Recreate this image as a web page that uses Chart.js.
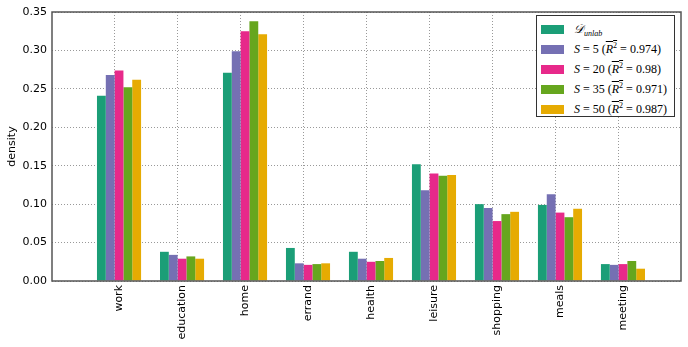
<!DOCTYPE html>
<html>
<head>
<meta charset="utf-8">
<script src="https://cdn.jsdelivr.net/npm/chart.js@4/dist/chart.umd.min.js"></script>
<style>
  html, body { margin: 0; padding: 0; background: #fff; }
  #wrap { position: relative; width: 688px; height: 347px; }
  #legend {
    position: absolute; left: 536px; top: 15px; width: 139px; height: 102px;
    border: 1px solid #333; background: #fff; box-sizing: border-box;
    font-family: 'Liberation Serif', serif; font-size: 12px; color: #000;
    padding-top: 3px;
  }
  #legend .row { height: 20px; display: flex; align-items: center; white-space: nowrap; }
  #legend .sw { width: 23px; height: 9px; margin-left: 4px; margin-right: 10px; }
  #legend sup { font-size: 8px; vertical-align: 5px; line-height: 0; }
  #legend sub { font-size: 8px; vertical-align: -3px; line-height: 0; font-style: italic; }
  #legend .ol { text-decoration: overline; }
</style>
</head>
<body>
<div id="wrap">
  <canvas id="c" width="688" height="347"></canvas>
  <div id="legend"></div>
</div>
<script>
// categories and series
var CATEGORIES = ['work', 'education', 'home', 'errand', 'health', 'leisure', 'shopping', 'meals', 'meeting'];
var UNLAB = [0.241, 0.038, 0.271, 0.043, 0.038, 0.152, 0.100, 0.099, 0.022];
var S5    = [0.268, 0.034, 0.299, 0.023, 0.029, 0.118, 0.095, 0.113, 0.021];
var S20   = [0.274, 0.029, 0.325, 0.021, 0.025, 0.140, 0.078, 0.089, 0.022];
var S35   = [0.252, 0.032, 0.338, 0.022, 0.026, 0.137, 0.087, 0.083, 0.026];
var S50   = [0.262, 0.029, 0.321, 0.023, 0.030, 0.138, 0.090, 0.094, 0.016];
var SERIES_LABELS = [
  '<i>𝒟</i><sub>unlab</sub>',
  '<i>S</i> = 5 (<span class="ol"><i>R</i><sup>2</sup></span> = 0.974)',
  '<i>S</i> = 20 (<span class="ol"><i>R</i><sup>2</sup></span> = 0.98)',
  '<i>S</i> = 35 (<span class="ol"><i>R</i><sup>2</sup></span> = 0.971)',
  '<i>S</i> = 50 (<span class="ol"><i>R</i><sup>2</sup></span> = 0.987)'
];
var COLORS = ['#1b9e77', '#7570b3', '#e7298a', '#66a61e', '#e6ab02'];
var Y_TICKS = [0, 0.05, 0.10, 0.15, 0.20, 0.25, 0.30, 0.35];

var FONT = "'DejaVu Sans', sans-serif";

function points(arr) {
  return arr.map(function (v, i) { return { x: i, y: v }; });
}

// dotted vertical grid, sitting a little left of each group centre (like the original)
var vGridPlugin = {
  id: 'vGrid',
  beforeDatasetsDraw: function (chart) {
    var ctx = chart.ctx, a = chart.chartArea, xs = chart.scales.x;
    ctx.save();
    ctx.strokeStyle = '#999';
    ctx.lineWidth = 1;
    ctx.setLineDash([1, 2]);
    CATEGORIES.forEach(function (c, i) {
      var x = Math.round(xs.getPixelForValue(i - 0.075)) + 0.5;
      ctx.beginPath();
      ctx.moveTo(x, a.top);
      ctx.lineTo(x, a.bottom);
      ctx.stroke();
    });
    ctx.restore();
  }
};

// axes frame on all four sides
var framePlugin = {
  id: 'frame',
  afterDatasetsDraw: function (chart) {
    var ctx = chart.ctx, a = chart.chartArea;
    ctx.save();
    ctx.strokeStyle = '#555';
    ctx.lineWidth = 1.5;
    ctx.strokeRect(a.left, a.top, a.right - a.left, a.bottom - a.top);
    ctx.restore();
  }
};

var data = [UNLAB, S5, S20, S35, S50];
new Chart(document.getElementById('c'), {
  type: 'bar',
  data: {
    datasets: data.map(function (d, i) {
      return {
        label: 'series' + i,
        data: points(d),
        backgroundColor: COLORS[i],
        borderWidth: 0,
        categoryPercentage: 0.7,
        barPercentage: 1.0
      };
    })
  },
  options: {
    responsive: false,
    animation: false,
    layout: { padding: { top: 12, right: 7, left: 0, bottom: 0 } },
    plugins: { legend: { display: false }, tooltip: { enabled: false } },
    scales: {
      x: {
        type: 'linear',
        offset: false,
        min: -1.064,
        max: 8.921,
        afterFit: function (s) { s.height = 66; },
        afterBuildTicks: function (s) {
          s.ticks = CATEGORIES.map(function (c, i) { return { value: i }; });
        },
        grid: { display: false, drawTicks: false, offset: false },
        border: { display: false },
        ticks: {
          autoSkip: false,
          minRotation: 90,
          maxRotation: 90,
          padding: 4,
          color: '#000',
          font: { family: FONT, size: 11 },
          callback: function (v) { return CATEGORIES[v] || ''; }
        }
      },
      y: {
        min: 0,
        max: 0.35,
        afterFit: function (s) { s.width = 52; },
        afterBuildTicks: function (s) {
          s.ticks = Y_TICKS.map(function (v) { return { value: v }; });
        },
        grid: {
          color: '#999',
          lineWidth: 1,
          drawTicks: false
        },
        border: { display: false, dash: [1, 2] },
        ticks: {
          padding: 5,
          color: '#000',
          font: { family: FONT, size: 11 },
          callback: function (v) { return v.toFixed(2); }
        },
        title: {
          display: true,
          text: 'density',
          color: '#000',
          font: { family: FONT, size: 11 },
          padding: { top: 6, bottom: 0 }
        }
      }
    }
  },
  plugins: [vGridPlugin, framePlugin]
});

// legend built from the same label/colour lists
var legend = document.getElementById('legend');
SERIES_LABELS.forEach(function (lab, i) {
  var row = document.createElement('div');
  row.className = 'row';
  row.innerHTML = '<span class="sw" style="background:' + COLORS[i] + '"></span><span>' + lab + '</span>';
  legend.appendChild(row);
});
</script>
</body>
</html>
